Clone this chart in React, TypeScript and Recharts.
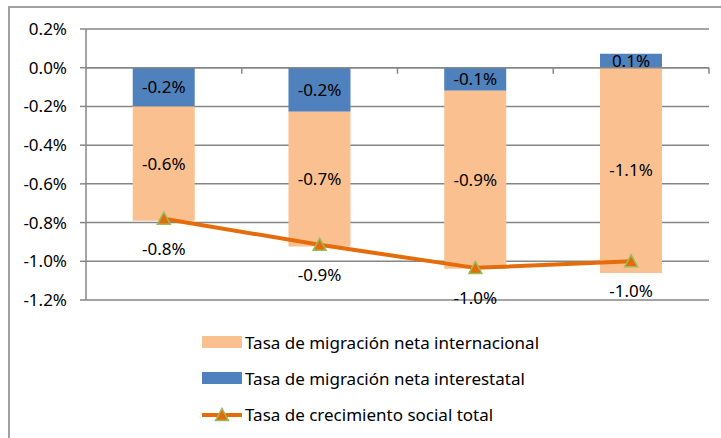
import { ComposedChart, Bar, Line, XAxis, YAxis, CartesianGrid, Legend, LabelList, ReferenceLine } from "recharts"

const categories = ["1", "2", "3", "4"]
const interestatal = [-0.2, -0.227, -0.119, 0.072]
const internacional = [-0.59, -0.696, -0.92, -1.06]
const total = [-0.78, -0.915, -1.034, -1.0]
const yTicks = [-1.2, -1.0, -0.8, -0.6, -0.4, -0.2, 0, 0.2]

const names = {
  internacional: "Tasa de migración neta internacional",
  interestatal: "Tasa de migración neta interestatal",
  total: "Tasa de crecimiento social total",
}

const ORANGE_LIGHT = "#FAC090"
const BLUE = "#4F81BD"
const ORANGE = "#E46C0A"
const GREEN = "#9BBB59"
const GRID = "#868686"
const FONT = "'Noto Sans', sans-serif"
const FS = 17

const data = categories.map((c, i) => ({
  name: c,
  interestatal: interestatal[i],
  internacional: internacional[i],
  total: total[i],
}))

const pct = (v: any) => Number(v).toFixed(1) + "%"

// excel-style triangle marker
function Triangle(props: any) {
  const { cx, cy } = props
  if (cx == null || cy == null) return null
  const s = 6.5
  return (
    <path
      d={`M${cx},${cy - s} L${cx + s},${cy + s * 0.85} L${cx - s},${cy + s * 0.85} Z`}
      fill={ORANGE}
      stroke={GREEN}
      strokeWidth={1.5}
    />
  )
}

// zero line with category tick marks hanging below it
function ZeroAxis(props: any) {
  const { x1, y1, x2 } = props
  const step = (x2 - x1) / categories.length
  return (
    <g>
      <line x1={x1} y1={y1} x2={x2} y2={y1} stroke={GRID} strokeWidth={1.5} />
      {categories.map((_, i) => (
        <line key={i} x1={x1 + step * (i + 1)} y1={y1} x2={x1 + step * (i + 1)} y2={y1 + 6} stroke={GRID} strokeWidth={1.5} />
      ))}
    </g>
  )
}

function LegendBox() {
  const items = [
    { label: names.internacional, kind: "bar", color: ORANGE_LIGHT },
    { label: names.interestatal, kind: "bar", color: BLUE },
    { label: names.total, kind: "line", color: ORANGE },
  ]
  return (
    <div style={{ fontFamily: FONT, fontSize: FS, color: "#000" }}>
      {items.map((it) => (
        <div key={it.label} style={{ height: 36, display: "flex", alignItems: "center" }}>
          <svg width={42} height={16} style={{ marginRight: 1 }}>
            {it.kind === "bar" ? (
              <rect x={0} y={2} width={40} height={12} fill={it.color} />
            ) : (
              <g>
                <line x1={0} y1={9} x2={40} y2={9} stroke={ORANGE} strokeWidth={4} />
                <Triangle cx={20} cy={9} />
              </g>
            )}
          </svg>
          <span>{it.label}</span>
        </div>
      ))}
    </div>
  )
}

export default function App() {
  return (
    <div style={{ position: "absolute", left: 0, top: 0, width: 721, height: 438, overflow: "hidden", background: "#fff" }}>
      <div style={{ position: "absolute", left: 8, top: 6, width: 800, height: 500, borderTop: "2px solid #a0a0a0", borderLeft: "2px solid #a0a0a0" }} />
      <ComposedChart
        width={721}
        height={438}
        data={data}
        stackOffset="sign"
        barCategoryGap="30%"
        margin={{ top: 29, right: 12, bottom: 138, left: 0 }}
        style={{ position: "absolute", left: 0, top: 0 }}
      >
        <CartesianGrid horizontal vertical={false} stroke={GRID} strokeWidth={1.5} />
        <XAxis dataKey="name" hide />
        <YAxis
          width={86}
          domain={[-1.2, 0.2]}
          ticks={yTicks}
          tickFormatter={pct}
          stroke={GRID}
          strokeWidth={1.5}
          tickSize={6}
          tickMargin={13}
          tick={{ fill: "#000", fontSize: FS, fontFamily: FONT }}
        />
        <ReferenceLine y={0} shape={ZeroAxis} />
        <Bar dataKey="interestatal" name={names.interestatal} stackId="a" fill={BLUE} isAnimationActive={false}>
          <LabelList dataKey="interestatal" position="center" formatter={pct} fill="#000" fontSize={FS} fontFamily={FONT} />
        </Bar>
        <Bar dataKey="internacional" name={names.internacional} stackId="a" fill={ORANGE_LIGHT} isAnimationActive={false}>
          <LabelList dataKey="internacional" position="center" formatter={pct} fill="#000" fontSize={FS} fontFamily={FONT} />
        </Bar>
        <Line
          dataKey="total"
          name={names.total}
          stroke={ORANGE}
          strokeWidth={4}
          dot={<Triangle />}
          activeDot={false}
          isAnimationActive={false}
        >
          <LabelList dataKey="total" position="bottom" offset={24} formatter={pct} fill="#000" fontSize={FS} fontFamily={FONT} />
        </Line>
        <Legend
          layout="vertical"
          verticalAlign="middle"
          align="center"
          content={() => <LegendBox />}
          wrapperStyle={{ position: "absolute", left: 202, top: 324, width: 440, height: 110 }}
        />
      </ComposedChart>
    </div>
  )
}
